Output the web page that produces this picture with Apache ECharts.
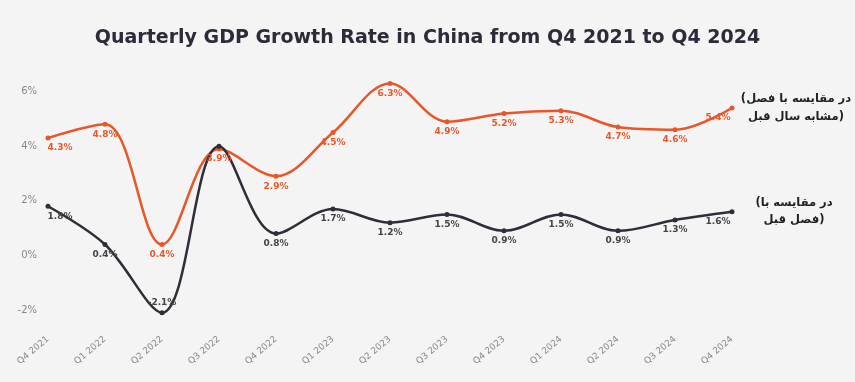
<!DOCTYPE html>
<html>
<head>
<meta charset="utf-8">
<script src="https://cdn.jsdelivr.net/npm/echarts@6/dist/echarts.min.js"></script>
<style>
html,body{margin:0;padding:0;background:#f4f4f4;}
#chart{width:855px;height:382px;}
</style>
</head>
<body>
<div id="chart"></div>
<script>
const categories = ['Q4 2021','Q1 2022','Q2 2022','Q3 2022','Q4 2022','Q1 2023','Q2 2023','Q3 2023','Q4 2023','Q1 2024','Q2 2024','Q3 2024','Q4 2024'];
const yoyValues = [4.3, 4.8, 0.4, 3.9, 2.9, 4.5, 6.3, 4.9, 5.2, 5.3, 4.7, 4.6, 5.4];
const qoqValues = [1.8, 0.4, -2.1, 4.0, 0.8, 1.7, 1.2, 1.5, 0.9, 1.5, 0.9, 1.3, 1.6];
const yTicks = [-2, 0, 2, 4, 6];
const titleText = 'Quarterly GDP Growth Rate in China from Q4 2021 to Q4 2024';
const yoyName = '(در مقایسه با فصل\nمشابه سال قبل)';
const qoqName = '(در مقایسه با\nفصل قبل)';

const ORANGE = '#e8572a';
const DARK = '#2e2e38';

function buildItems(values, hideIdx, topIdx) {
  const last = values.length - 1;
  return values.map((v, i) => {
    const item = { value: v };
    const label = {};
    if (i === 0) label.offset = [12, 0];
    if (i === last) label.offset = [-14, 0];
    if (hideIdx.includes(i)) label.show = false;
    if (topIdx.includes(i)) label.position = 'top';
    item.label = label;
    return item;
  });
}

const chart = echarts.init(document.getElementById('chart'));
chart.setOption({
  backgroundColor: '#f4f4f4',
  animation: false,
  title: {
    text: titleText,
    left: 'center',
    top: 24,
    textStyle: { fontFamily: 'DejaVu Sans', fontWeight: 'bold', fontSize: 19, color: '#2b2b3a' }
  },
  grid: { left: 48, right: 123, top: 37, bottom: 72, containLabel: false },
  xAxis: {
    type: 'category',
    data: categories,
    boundaryGap: false,
    axisLine: { show: false },
    axisTick: { show: false },
    axisLabel: { rotate: 40, margin: 28, fontSize: 9, color: '#8a8a8a', fontFamily: 'DejaVu Sans' },
    splitLine: { show: false }
  },
  yAxis: {
    type: 'value',
    min: yTicks[0],
    max: yTicks[yTicks.length - 1] + 2,
    interval: 2,
    axisLine: { show: false },
    axisTick: { show: false },
    splitLine: { show: false },
    axisLabel: {
      formatter: function (v) { return yTicks.includes(v) ? v + '%' : ''; },
      fontSize: 10, color: '#888', margin: 11, fontFamily: 'DejaVu Sans'
    }
  },
  series: [
    {
      name: 'yoy',
      type: 'line',
      smooth: 0.35,
      clip: false,
      data: buildItems(yoyValues, [], []),
      symbol: 'circle',
      symbolSize: 5,
      lineStyle: { color: ORANGE, width: 2.5 },
      itemStyle: { color: ORANGE },
      label: { show: true, position: 'bottom', distance: 3, formatter: '{c}%', fontSize: 9, fontWeight: 'bold', color: ORANGE, fontFamily: 'DejaVu Sans' },
      endLabel: {
        show: true, formatter: yoyName, distance: 64, align: 'center', offset: [0, 0],
        fontSize: 11.5, fontWeight: 'bold', color: '#222', lineHeight: 18, fontFamily: 'DejaVu Sans'
      }
    },
    {
      name: 'qoq',
      type: 'line',
      smooth: 0.35,
      clip: false,
      data: buildItems(qoqValues, [3], [2]),
      symbol: 'circle',
      symbolSize: 5,
      lineStyle: { color: DARK, width: 2.5 },
      itemStyle: { color: DARK },
      label: { show: true, position: 'bottom', distance: 3, formatter: '{c}%', fontSize: 9, fontWeight: 'bold', color: '#444', fontFamily: 'DejaVu Sans' },
      endLabel: {
        show: true, formatter: qoqName, distance: 62, align: 'center', offset: [0, 0],
        fontSize: 11.5, fontWeight: 'bold', color: '#222', lineHeight: 17, fontFamily: 'DejaVu Sans'
      }
    }
  ]
});
</script>
</body>
</html>
